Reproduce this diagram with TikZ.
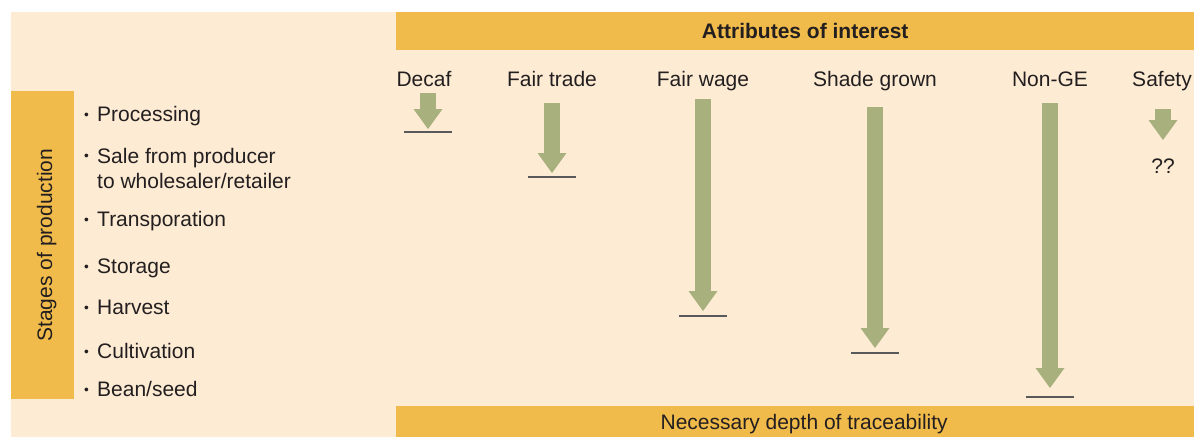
\documentclass[tikz,border=0pt]{standalone}
\usepackage{fontspec}
\setmainfont{Liberation Sans}
\usepackage{xcolor}
\definecolor{tbcream}{HTML}{FDEBD3}
\definecolor{tbgold}{HTML}{F1BB4B}
\definecolor{tbsage}{HTML}{A8B07E}
\definecolor{tbink}{HTML}{231F20}
\definecolor{tbrule}{HTML}{58595B}
\usetikzlibrary{arrows.meta,positioning}
\newcommand{\stagedot}{\makebox[13pt][l]{\raisebox{2.5pt}{\scalebox{0.65}{\textbullet}}}}

\begin{document}
\begin{tikzpicture}[x=1pt,y=-1pt,>=Latex,font=\fontsize{21}{25.5}\selectfont,text=tbink]
\tikzset{
 band/.style={fill=tbgold,inner sep=0pt,anchor=north west},
 attr/.style={anchor=base},
 stage/.style={anchor=base west,inner sep=0pt,align=left},
 deep/.style={-{Triangle[width=29pt,length=20pt,line width=0pt]},draw=tbsage,fill=tbsage,line width=16pt},
 depthbar/.style={draw=tbrule,line width=1.4pt}
}
\useasboundingbox (0,0) rectangle (1194,437);
\fill[tbcream] (11,12) rectangle (1194,437);
% bands
\node[band,minimum width=798pt,minimum height=38pt,
 label={[xshift=10pt]center:\bfseries Attributes of interest}] (attrband) at (396,12) {};
\node[band,minimum width=798pt,minimum height=31pt,
 label={[xshift=9pt,yshift=-2.5pt]center:Necessary depth of traceability}] (depthband) at (396,406) {};
\node[band,minimum width=63pt,minimum height=308pt] (stageband) at (11,91) {};
\node[rotate=90] (stages) at ([xshift=4pt]stageband.center) {Stages of production};
% stages
\node[stage] (processing) at (84,121.5) {\stagedot Processing};
\node[stage] (sale) at (84,188.5) {\stagedot Sale from producer\\\phantom{\stagedot}to wholesaler/retailer};
\node[stage] (transport) at (84,226.5) {\stagedot Transporation};
\node[stage] (storage) at (84,273.5) {\stagedot Storage};
\node[stage] (harvest) at (84,314.5) {\stagedot Harvest};
\node[stage] (cultivation) at (84,358.5) {\stagedot Cultivation};
\node[stage] (bean) at (84,396.5) {\stagedot Bean/seed};
% attributes
\node[attr] (decaf) at (424,86.5) {Decaf};
\node[attr] (fairtrade) at (552,86.5) {Fair trade};
\node[attr] (fairwage) at (703,86.5) {Fair wage};
\node[attr] (shade) at (875,86.5) {Shade grown};
\node[attr] (nonge) at (1050,86.5) {Non-GE};
\node[attr] (safety) at (1162,86.5) {Safety};
% depth arrows
\foreach \key/\x/\ytop/\ytip/\ybar in {decaf/428/93/129/132, fairtrade/552/103/173/177,
 fairwage/703/99/311/316, shade/875/107/348/353, nonge/1050/103/388/397}{
 \coordinate (\key-top) at (\x,\ytop);
 \coordinate (\key-tip) at (\x,\ytip);
 \coordinate (\key-bar) at (\x,\ybar);
 \draw[deep] (\key-top) -- (\key-tip);
 \draw[depthbar] ([xshift=-24pt]\key-bar) -- ([xshift=24pt]\key-bar);
}
\coordinate (safety-top) at (1163,109);
\coordinate (safety-tip) at (1163,140);
\node (unknown) at (1163,166) {??};
\draw[deep] (safety-top) -- (safety-tip);
\end{tikzpicture}
\end{document}
